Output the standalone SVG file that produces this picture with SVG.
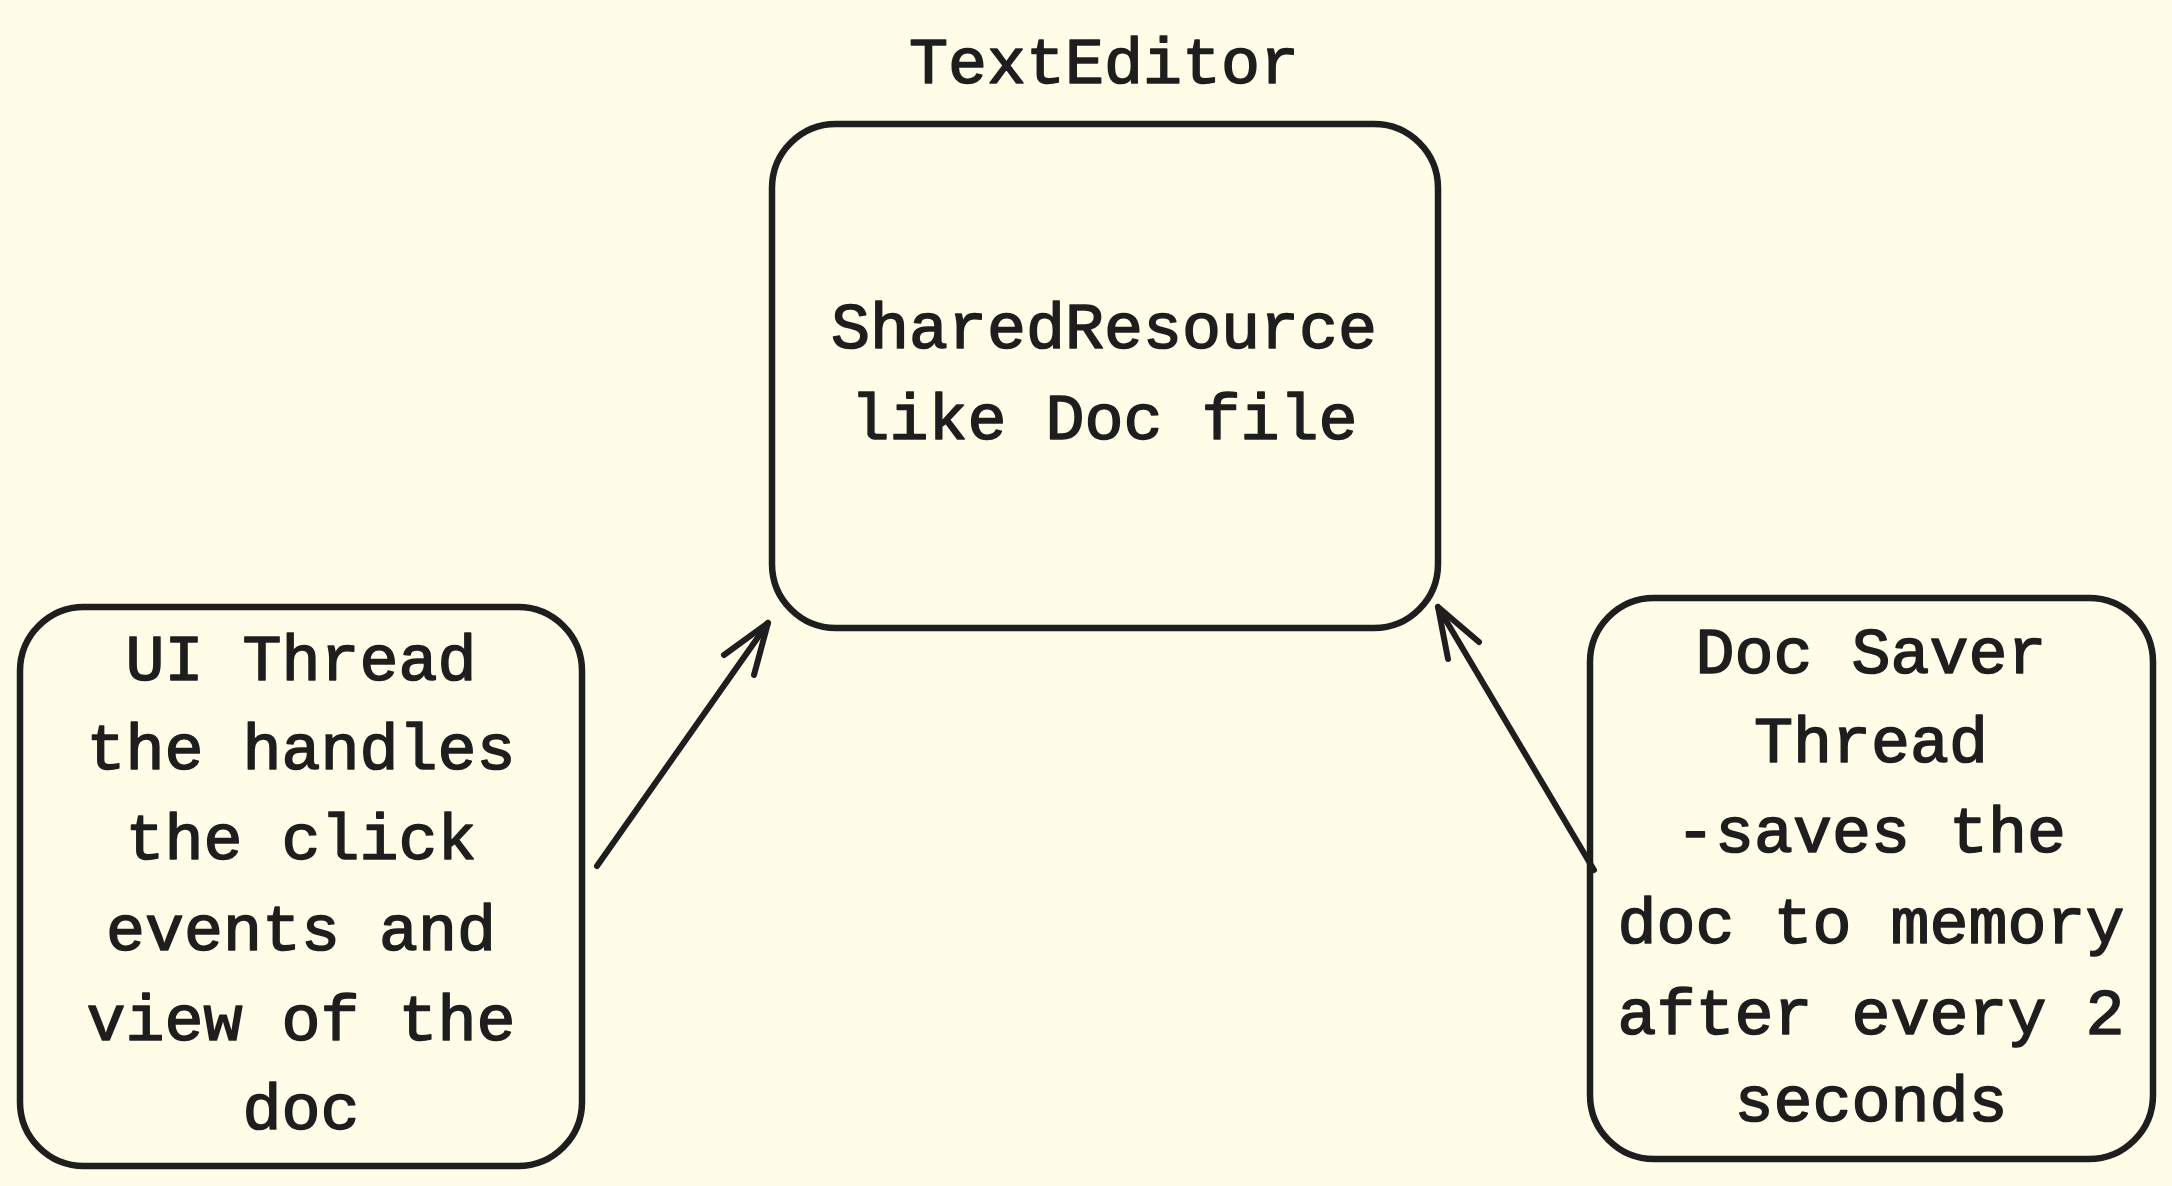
<svg xmlns="http://www.w3.org/2000/svg" width="2172" height="1186" viewBox="0 0 2172 1186">
<defs>
<style>
.box{fill:#fffce8;stroke:#1e1e1e;stroke-width:6.5;}
.t{font-family:"Liberation Mono","DejaVu Sans Mono",monospace;font-size:65px;fill:#1e1e1e;stroke:#1e1e1e;stroke-width:1.6;stroke-linejoin:round;text-anchor:middle;}
.c{fill:none;stroke:#1e1e1e;stroke-width:6;stroke-linecap:round;stroke-linejoin:round;}
</style>
</defs>
<rect x="0" y="0" width="2172" height="1186" fill="#fffce8"/>
<g id="title">
<text class="t" x="1104" y="83">TextEditor</text>
</g>
<g id="shared">
<rect class="box" x="772" y="124" width="666" height="504" rx="64" ry="64"/>
<text class="t" x="1104" y="348">SharedResource</text>
<text class="t" x="1104" y="439">like Doc file</text>
</g>
<g id="ui">
<rect class="box" x="20" y="607" width="562" height="559" rx="64" ry="64"/>
<text class="t" x="301" y="680">UI Thread</text>
<text class="t" x="301" y="769">the handles</text>
<text class="t" x="301" y="859">the click</text>
<text class="t" x="301" y="950">events and</text>
<text class="t" x="301" y="1040">view of the</text>
<text class="t" x="301" y="1129">doc</text>
</g>
<g id="saver">
<rect class="box" x="1590" y="598" width="563" height="561" rx="64" ry="64"/>
<text class="t" x="1871" y="673">Doc Saver</text>
<text class="t" x="1871" y="762">Thread</text>
<text class="t" x="1871" y="852">-saves the</text>
<text class="t" x="1871" y="943">doc to memory</text>
<text class="t" x="1871" y="1034">after every 2</text>
<text class="t" x="1871" y="1121">seconds</text>
</g>
<g id="connectors">
<path class="c" d="M597 866 L768 623"/>
<path class="c" d="M724 655 L768 623 L754 675"/>
<path class="c" d="M1594 870 L1438 607"/>
<path class="c" d="M1479 642 L1438 607 L1448 659"/>
</g>
</svg>
